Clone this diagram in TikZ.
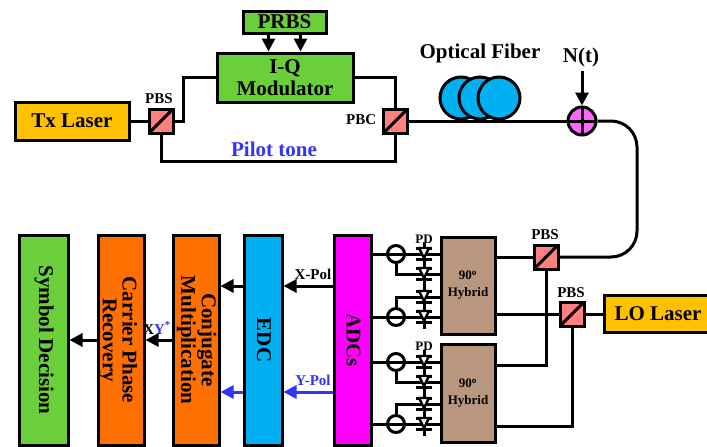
\documentclass[tikz,border=0pt]{standalone}
\usepackage{fontspec}
\setmainfont{Liberation Serif}
\usepackage{xcolor}
\usepackage{tikz}
\usetikzlibrary{arrows.meta, backgrounds}

\definecolor{lasergold}{HTML}{FFC000}
\definecolor{blockgreen}{HTML}{6BCF3C}
\definecolor{dspcoral}{HTML}{FF7000}
\definecolor{edccyan}{HTML}{00B0F0}
\definecolor{adcpink}{HTML}{FF00FF}
\definecolor{hybridtan}{HTML}{B8977E}
\definecolor{pbssalmon}{HTML}{FF8080}
\definecolor{adderpink}{HTML}{FF66FF}
\definecolor{pilotblue}{HTML}{3333FF}

\newcommand{\bigfont}{\fontsize{21}{22}\selectfont\bfseries}
\newcommand{\midfont}{\fontsize{15}{16}\selectfont\bfseries}
\newcommand{\smallfont}{\fontsize{13}{17}\selectfont\bfseries}
\newcommand{\sidetext}[1]{\rotatebox{-90}{\renewcommand{\arraystretch}{0.9}\begin{tabular}{@{}c@{}}#1\end{tabular}}}

\begin{document}
\begin{tikzpicture}[x=1pt, y=-1pt, line width=3pt,
    blockbox/.style={draw, inner sep=0pt, align=center, font=\bigfont},
    pbsbox/.style={draw, fill=pbssalmon, inner sep=0pt, minimum size=24pt,
      path picture={\draw (path picture bounding box.south west) -- (path picture bounding box.north east);}},
    addernode/.style={draw, circle, fill=adderpink, inner sep=0pt, minimum size=28pt,
      path picture={\draw (path picture bounding box.north) -- (path picture bounding box.south)
        (path picture bounding box.west) -- (path picture bounding box.east);}},
    balnode/.style={draw, circle, inner sep=0pt, minimum size=17pt,
      path picture={\draw (path picture bounding box.west) -- (path picture bounding box.east);}},
    pdnode/.style={inner sep=0pt, minimum width=18pt, minimum height=24pt,
      path picture={\begin{scope}[shift={(path picture bounding box.center)}]
        \draw (0,-12) -- (0,12) (-8,5) -- (8,5) (-8,-6) -- (8,-6);
        \draw[fill=white, line width=2.4pt] (-5,-6) -- (5,-6) -- (0,4) -- cycle;
      \end{scope}}},
    fiberloop/.style={draw, circle, fill=edccyan, inner sep=0pt, minimum size=42pt},
    wire/.style={draw, line width=3pt},
    flow/.style={wire, -{Triangle[length=13pt, width=13pt]}},
    blueflow/.style={wire, draw=pilotblue, -{Triangle[length=13pt, width=13pt, fill=pilotblue]}}
  ]
  \useasboundingbox (0,0) rectangle (707,447);
  \clip (0,0) rectangle (707,447);

  % Transmitter
  \node[blockbox, fill=lasergold, minimum width=114pt, minimum height=38pt] (txlaser) at (72,121) {Tx Laser};
  \node[pbsbox] (pbs1) at (161,121) {};
  \node[font=\midfont] (pbs1label) at (159,99) {PBS};
  \node[blockbox, fill=blockgreen, minimum width=136pt, minimum height=49pt] (modulator) at (285,77.5) {I-Q\\Modulator};
  \node[blockbox, fill=blockgreen, minimum width=83pt, minimum height=22pt] (prbs) at (284.5,22) {PRBS};
  \node[pbsbox] (pbc) at (395.5,121) {};
  \node[font=\midfont, anchor=east] (pbclabel) at (381,120) {PBC};
  \node[font=\bigfont, text=pilotblue] (pilotlabel) at (274,149) {Pilot tone};
  \coordinate (pilotrail) at (274,161);

  % Fiber link
  \foreach \name/\px in {fib1/461, fib2/480, fib3/499} {
    \node[fiberloop] (\name) at (\px,98) {};
  }
  \node[font=\bigfont] (fiberlabel) at (480,53) {Optical Fiber};
  \node[addernode] (adder) at (582,121) {};
  \node[font=\bigfont] (noiselabel) at (581,57) {N(t)};
  \coordinate (fiberdrop) at (637,190);

  % Coherent receiver front end
  \node[blockbox, fill=adcpink, minimum width=37pt, minimum height=210pt] (adcs) at (352.5,340) {\hspace*{-4pt}\sidetext{ADCs}};
  \node[blockbox, fill=hybridtan, font=\smallfont, minimum width=54pt, minimum height=97pt] (hyb1) at (468,285.5) {90\textsuperscript{o}\\Hybrid};
  \node[blockbox, fill=hybridtan, font=\smallfont, minimum width=54pt, minimum height=98pt] (hyb2) at (468,393) {90\textsuperscript{o}\\Hybrid};
  \node[pbsbox] (pbs2) at (546,257) {};
  \node[font=\midfont] (pbs2label) at (545,235) {PBS};
  \node[pbsbox] (pbs3) at (572,314) {};
  \node[font=\midfont] (pbs3label) at (571,293) {PBS};
  \node[blockbox, fill=lasergold, minimum width=107pt, minimum height=37pt] (lolaser) at (658,314) {LO Laser};
  \node[font=\smallfont] (pdlabel1) at (424,239) {PD};
  \node[font=\smallfont] (pdlabel2) at (424,346) {PD};
  \foreach \name/\py in {bal1/254, bal2/317, bal3/362, bal4/424} {
    \node[balnode] (\name) at (396,\py) {};
  }
  \foreach \name/\py in {pd1/254, pd2/274, pd3/297, pd4/317, pd5/362, pd6/382, pd7/404, pd8/424} {
    \node[pdnode] (\name) at (424,\py) {};
  }

  % DSP chain
  \node[blockbox, fill=edccyan, minimum width=38pt, minimum height=210pt] (edc) at (263,340) {\hspace*{-4pt}\sidetext{EDC}};
  \node[blockbox, fill=dspcoral, minimum width=46pt, minimum height=210pt] (conj) at (196,340) {\sidetext{Conjugate\\Multiplication}};
  \node[blockbox, fill=dspcoral, minimum width=46pt, minimum height=210pt] (carrier) at (121,340) {\hspace*{-8pt}\sidetext{Carrier Phase\\Recovery}};
  \node[blockbox, fill=blockgreen, minimum width=49pt, minimum height=210pt] (symbol) at (43.5,340) {\sidetext{Symbol Decision}};
  \node[font=\midfont] (xpol) at (313,274) {X-Pol};
  \node[font=\midfont, text=pilotblue] (ypol) at (313,380) {Y-Pol};
  \node[font=\midfont] (xylabel) at (157,328) {X\textcolor{pilotblue}{Y\textsuperscript{*}}};
  \coordinate (xrow) at (0,286);
  \coordinate (yrow) at (0,392);

  % Connections
  \draw[wire] (txlaser) -- (pbs1);
  \draw[wire] (pbs1.east) -- ++(9,0) |- (modulator.west);
  \draw[wire] (pbs1.south) |- (pilotrail) -| (pbc.south);
  \draw[wire] (modulator.east) -| (pbc.north);
  \draw[flow] ([xshift=-16pt]prbs.south) -- ([xshift=-16pt]prbs.south |- modulator.north);
  \draw[flow] ([xshift=16pt]prbs.south) -- ([xshift=16pt]prbs.south |- modulator.north);
  \draw[wire] (pbc) -- (adder);
  \draw[flow] (adder.north |- noiselabel.south) -- (adder.north);
  \draw[wire, rounded corners=26pt] (adder.east) -| (fiberdrop) |- (pbs2.east);
  \draw[wire] (hyb1.east |- pbs2) -- (pbs2);
  \draw[wire] (hyb1.east |- pbs3) -- (pbs3);
  \draw[wire] (lolaser) -- (pbs3);
  \draw[wire] (pbs2.south) |- ([yshift=28pt]hyb2.east);
  \draw[wire] (pbs3.south) |- ([yshift=-33pt]hyb2.east);
  \begin{scope}[on background layer]
    \foreach \balname/\pdmain/\hybname in {bal1/pd1/hyb1, bal2/pd4/hyb1, bal3/pd5/hyb2, bal4/pd8/hyb2} {
      \draw[wire] (adcs.east |- \balname) -- (\hybname.west |- \pdmain);
    }
    \draw[wire] (bal1.south) |- (hyb1.west |- pd2);
    \draw[wire] (bal2.north) |- (hyb1.west |- pd3);
    \draw[wire] (bal3.south) |- (hyb2.west |- pd6);
    \draw[wire] (bal4.north) |- (hyb2.west |- pd7);
  \end{scope}
  \draw[flow] (adcs.west |- xrow) -- (edc.east |- xrow);
  \draw[flow] (edc.west |- xrow) -- (conj.east |- xrow);
  \draw[blueflow] (adcs.west |- yrow) -- (edc.east |- yrow);
  \draw[blueflow] (edc.west |- yrow) -- (conj.east |- yrow);
  \draw[flow] (conj) -- (carrier);
  \draw[flow] (carrier) -- (symbol);
\end{tikzpicture}
\end{document}
